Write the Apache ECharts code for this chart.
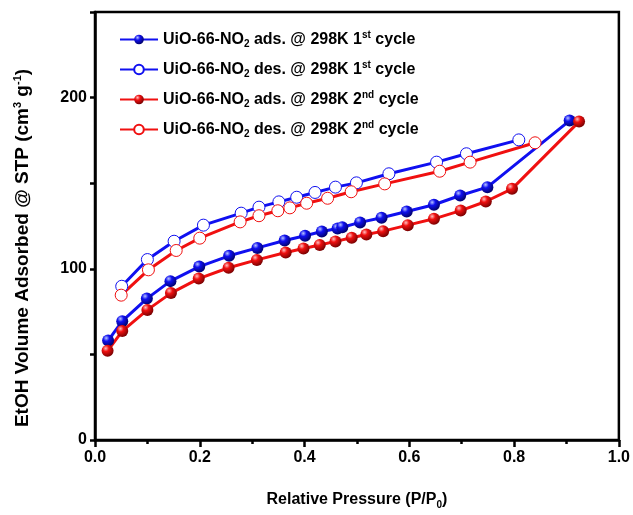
<!DOCTYPE html>
<html>
<head>
<meta charset="utf-8">
<script src="https://cdn.jsdelivr.net/npm/echarts@6/dist/echarts.min.js"></script>
<style>
  html, body { margin: 0; padding: 0; background: #fff; }
  #chart { width: 633px; height: 515px; }
</style>
</head>
<body>
<div id="chart"></div>
<script>
// 1st cycle, adsorption / desorption
const ads1X = [0.025, 0.052, 0.099, 0.144, 0.199, 0.256, 0.31, 0.362, 0.401, 0.433, 0.463, 0.472, 0.506, 0.547, 0.595, 0.647, 0.697, 0.749, 0.906];
const ads1Y = [58.1, 69.4, 82.6, 92.8, 101.3, 107.6, 112.2, 116.5, 119.3, 121.8, 123.5, 124.3, 127.1, 129.8, 133.5, 137.4, 142.8, 147.7, 186.6];
const des1X = [0.051, 0.1, 0.151, 0.207, 0.279, 0.313, 0.351, 0.385, 0.42, 0.459, 0.499, 0.561, 0.652, 0.709, 0.809];
const des1Y = [89.8, 105.4, 116.1, 125.5, 132.5, 136, 139.1, 141.8, 144.6, 147.7, 150.2, 155.5, 162.3, 167.2, 175.3];
// 2nd cycle
const ads2X = [0.024, 0.052, 0.1, 0.145, 0.198, 0.255, 0.309, 0.364, 0.398, 0.429, 0.459, 0.49, 0.518, 0.55, 0.597, 0.647, 0.698, 0.746, 0.796, 0.924];
const ads2Y = [52.1, 63.6, 76, 85.8, 94.3, 100.6, 105.2, 109.5, 111.9, 113.9, 116, 118.1, 120, 122, 125.5, 129.2, 134, 139.3, 146.7, 186];
const des2X = [0.05, 0.102, 0.155, 0.2, 0.277, 0.313, 0.349, 0.372, 0.404, 0.444, 0.489, 0.553, 0.658, 0.716, 0.84];
const des2Y = [84.6, 99.4, 110.7, 117.9, 127.4, 131, 133.9, 135.6, 138.3, 141.2, 145, 149.6, 157, 162.3, 173.6];

const seriesNames = [
  "UiO-66-NO2 ads. @ 298K 1st cycle",
  "UiO-66-NO2 des. @ 298K 1st cycle",
  "UiO-66-NO2 ads. @ 298K 2nd cycle",
  "UiO-66-NO2 des. @ 298K 2nd cycle",
];
const legendRich = [
  "{t|UiO-66-NO}{sub|2}{t| ads. @ 298K 1}{sup|st}{t| cycle}",
  "{t|UiO-66-NO}{sub|2}{t| des. @ 298K 1}{sup|st}{t| cycle}",
  "{t|UiO-66-NO}{sub|2}{t| ads. @ 298K 2}{sup|nd}{t| cycle}",
  "{t|UiO-66-NO}{sub|2}{t| des. @ 298K 2}{sup|nd}{t| cycle}",
];

const FONT = "Liberation Sans, Arial, sans-serif";
const BLUE = "#1010f0";
const RED = "#f01010";

const zip = (xs, ys) => xs.map((x, i) => [x, ys[i]]);

const ball = (light, mid, dark) => new echarts.graphic.RadialGradient(0.35, 0.3, 0.75, [
  { offset: 0, color: light },
  { offset: 0.35, color: mid },
  { offset: 1, color: dark },
]);

const adsSeries = (name, data, color, light, dark) => ({
  name,
  type: "line",
  data,
  symbol: "circle",
  symbolSize: 12,
  lineStyle: { width: 3, color },
  itemStyle: { color: ball(light, color, dark), borderWidth: 0 },
});

const desSeries = (name, data, color) => ({
  name,
  type: "line",
  data,
  symbol: "circle",
  symbolSize: 12,
  lineStyle: { width: 3, color },
  itemStyle: { color: "#fff", borderColor: color, borderWidth: 1 },
});

const chart = echarts.init(document.getElementById("chart"));
chart.setOption({
  animation: false,
  backgroundColor: "#fff",
  textStyle: { fontFamily: FONT },
  grid: {
    left: 95, right: 14, top: 12, bottom: 75,
    show: true, borderColor: "#000", borderWidth: 2.5, backgroundColor: "transparent",
  },
  legend: {
    orient: "vertical",
    left: 114,
    top: 25,
    itemWidth: 38,
    itemHeight: 12,
    itemGap: 11,
    data: seriesNames,
    formatter: (name) => legendRich[seriesNames.indexOf(name)],
    textStyle: {
      rich: {
        t: { fontFamily: FONT, fontWeight: "bold", fontSize: 16, color: "#000" },
        sub: { fontFamily: FONT, fontWeight: "bold", fontSize: 10, color: "#000", verticalAlign: "bottom", padding: [9, 0, 0, 0] },
        sup: { fontFamily: FONT, fontWeight: "bold", fontSize: 10, color: "#000", verticalAlign: "top", padding: [0, 0, 9, 0] },
      },
    },
  },
  xAxis: {
    type: "value",
    min: 0,
    max: 1,
    interval: 0.2,
    name: "{t|Relative Pressure (P/P}{sub|0}{t|)}",
    nameLocation: "middle",
    nameGap: 50,
    nameTextStyle: {
      rich: {
        t: { fontFamily: FONT, fontWeight: "bold", fontSize: 16, color: "#000" },
        sub: { fontFamily: FONT, fontWeight: "bold", fontSize: 10, color: "#000", verticalAlign: "bottom", padding: [10, 0, 0, 0] },
      },
    },
    axisLine: { lineStyle: { color: "#000", width: 2.5 } },
    axisTick: { inside: false, length: 7, lineStyle: { color: "#000", width: 2.5 } },
    minorTick: { show: true, splitNumber: 2, length: 4, lineStyle: { color: "#000", width: 2.5 } },
    axisLabel: {
      color: "#000", fontWeight: "bold", fontSize: 16, fontFamily: FONT, margin: 10,
      formatter: (v) => v.toFixed(1),
    },
    splitLine: { show: false },
  },
  yAxis: {
    type: "value",
    min: 0,
    max: 250,
    interval: 50,
    name: "{t|EtOH Volume Adsorbed @ STP (cm}{sup|3}{t| g}{sup|-1}{t|)}",
    nameLocation: "middle",
    nameGap: 62,
    nameTextStyle: {
      padding: [0, 44, 0, 0],
      rich: {
        t: { fontFamily: FONT, fontWeight: "bold", fontSize: 19, color: "#000" },
        sup: { fontFamily: FONT, fontWeight: "bold", fontSize: 11, color: "#000", verticalAlign: "top", padding: [0, 0, 10, 0] },
      },
    },
    axisLine: { show: true, lineStyle: { color: "#000", width: 2.5 } },
    axisTick: { show: true, length: 5, lineStyle: { color: "#000", width: 2.5 } },
    axisLabel: {
      color: "#000", fontWeight: "bold", fontSize: 16, fontFamily: FONT, margin: 8,
      formatter: (v) => (v % 100 === 0 ? String(v) : ""),
    },
    splitLine: { show: false },
  },
  series: [
    adsSeries(seriesNames[0], zip(ads1X, ads1Y), BLUE, "#b8c4ff", "#000060"),
    desSeries(seriesNames[1], zip(des1X, des1Y), BLUE),
    adsSeries(seriesNames[2], zip(ads2X, ads2Y), RED, "#ffc0c0", "#700000"),
    desSeries(seriesNames[3], zip(des2X, des2Y), RED),
  ],
});
</script>
</body>
</html>
